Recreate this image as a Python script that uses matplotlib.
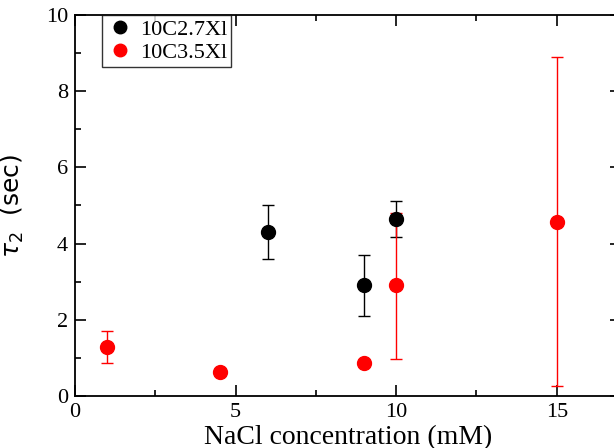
import numpy as np
import matplotlib
matplotlib.use("Agg")
import matplotlib.pyplot as plt
from matplotlib.ticker import MultipleLocator

# 10C2.7Xl
x_black = [6, 9, 10]
y_black = [4.30, 2.91, 4.65]
lo_black = [3.59, 2.10, 4.17]
hi_black = [5.01, 3.69, 5.12]

# 10C3.5Xl
x_red = [1, 4.5, 9, 10, 15]
y_red = [1.29, 0.62, 0.87, 2.91, 4.57]
lo_red = [0.87, 0.62, 0.87, 0.98, 0.25]
hi_red = [1.71, 0.62, 0.87, 4.81, 8.90]

plt.rcParams['font.family'] = ['Liberation Serif', 'DejaVu Serif']

fig = plt.figure(figsize=(6.14, 4.48), dpi=100)
ax = fig.add_axes([75/614, 1-396/448, 546/614, 381/448])

def draw(x, y, lo, hi, col, lab):
    y = np.array(y)
    yerr = [y - np.array(lo), np.array(hi) - y]
    ax.errorbar(x, y, yerr=yerr, fmt='o', color=col, ecolor=col, ms=10,
                elinewidth=1.0, capsize=4, capthick=1.0, label=lab,
                mec=col, zorder=3)

draw(x_black, y_black, lo_black, hi_black, 'black', '10C2.7Xl')
draw(x_red, y_red, lo_red, hi_red, 'red', '10C3.5Xl')

ax.set_xlim(0, 17)
ax.set_ylim(0, 10)
ax.xaxis.set_major_locator(MultipleLocator(5))
ax.xaxis.set_minor_locator(MultipleLocator(2.5))
ax.yaxis.set_major_locator(MultipleLocator(2))
ax.yaxis.set_minor_locator(MultipleLocator(1))
ax.tick_params(which='both', direction='in', top=True, right=True, labelsize=16, pad=5, width=1.2)
ax.tick_params(which='major', length=8)
ax.tick_params(which='minor', length=4)
for s in ax.spines.values():
    s.set_linewidth(1.3)

ax.set_xlabel('NaCl concentration (mM)', fontsize=20, labelpad=2)
ax.set_ylabel(r'$\tau_2$  (sec)', fontsize=18, family='DejaVu Sans', labelpad=14)

handles, labels = ax.get_legend_handles_labels()
handles = [h[0] for h in handles]
leg = ax.legend(handles, labels, loc='upper left', bbox_to_anchor=(27/546, 1.0),
                borderaxespad=0, fontsize=16, frameon=True, fancybox=False,
                handletextpad=0.3, handlelength=1.2, labelspacing=0.1,
                borderpad=0.2, markerscale=0.9)
leg.get_frame().set_edgecolor('black')
leg.get_frame().set_linewidth(1.0)

fig.savefig('out.png', dpi=100)
